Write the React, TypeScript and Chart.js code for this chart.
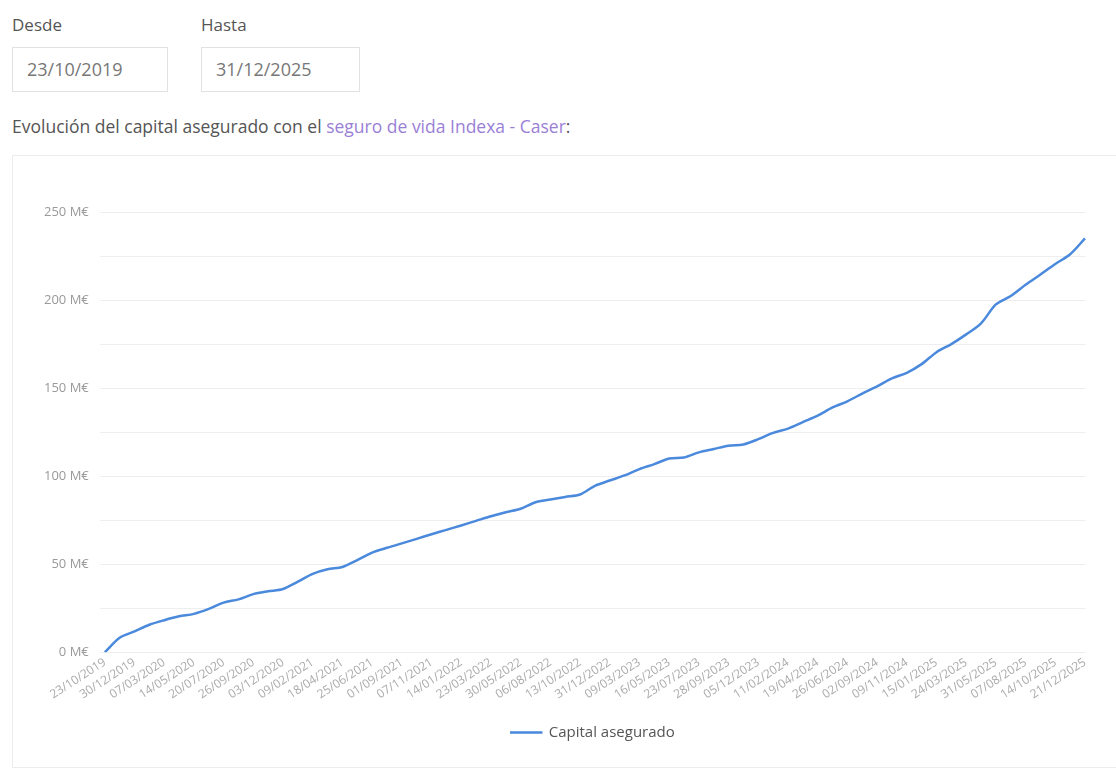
import React, { useEffect, useRef } from "react";
import { Chart, registerables } from "chart.js";

Chart.register(...registerables);

const dates: string[] = [
  "23/10/2019","26/11/2019","30/12/2019","02/02/2020","07/03/2020","10/04/2020","14/05/2020","17/06/2020",
  "20/07/2020","23/08/2020","26/09/2020","30/10/2020","03/12/2020","06/01/2021","09/02/2021","15/03/2021",
  "18/04/2021","22/05/2021","25/06/2021","29/07/2021","01/09/2021","05/10/2021","07/11/2021","11/12/2021",
  "14/01/2022","17/02/2022","23/03/2022","26/04/2022","30/05/2022","03/07/2022","06/08/2022","09/09/2022",
  "13/10/2022","22/11/2022","31/12/2022","03/02/2023","09/03/2023","12/04/2023","16/05/2023","19/06/2023",
  "23/07/2023","26/08/2023","28/09/2023","01/11/2023","05/12/2023","08/01/2024","11/02/2024","16/03/2024",
  "19/04/2024","23/05/2024","26/06/2024","30/07/2024","02/09/2024","06/10/2024","09/11/2024","13/12/2024",
  "15/01/2025","18/02/2025","24/03/2025","27/04/2025","31/05/2025","04/07/2025","07/08/2025","10/09/2025",
  "14/10/2025","17/11/2025","21/12/2025",
];

const capitalAsegurado: number[] = [
  0, 8.2, 11.8, 15.6, 18.2, 20.4, 21.8, 24.6, 28.2, 30, 33, 34.6, 35.9, 40.1, 44.5, 47.1,
  48.4, 52.3, 56.6, 59.3, 61.8, 64.4, 67, 69.5, 72, 74.6, 77.2, 79.5, 81.5, 85.2, 86.7, 88.2,
  89.6, 94.5, 97.5, 100.4, 104, 106.8, 110, 110.6, 113.5, 115.4, 117.3, 118, 121, 124.6, 127, 130.7,
  134.3, 139, 142.5, 146.9, 151, 155.5, 158.7, 163.6, 170.4, 175, 180.5, 186.8, 197.5, 202.3, 208.7,
  214.5, 220.5, 226, 235,
];

const seriesName = "Capital asegurado";
const fromDate = "23/10/2019";
const toDate = "31/12/2025";

const FONT = "'Open Sans', 'DejaVu Sans', sans-serif";

export default function App() {
  const canvasRef = useRef<HTMLCanvasElement | null>(null);

  useEffect(() => {
    if (!canvasRef.current) return;
    const chart = new Chart(canvasRef.current, {
      type: "line",
      data: {
        labels: dates,
        datasets: [
          {
            label: seriesName,
            data: capitalAsegurado,
            borderColor: "#4a89dc",
            backgroundColor: "#4a89dc",
            borderWidth: 2.5,
            pointRadius: 0,
            pointHoverRadius: 0,
            tension: 0.3,
            fill: false,
          },
        ],
      },
      options: {
        responsive: false,
        animation: false,
        maintainAspectRatio: false,
        layout: { padding: { left: 13, right: 0, top: 47, bottom: 15 } },
        plugins: {
          tooltip: { enabled: false },
          legend: {
            position: "bottom",
            labels: {
              boxWidth: 30,
              boxHeight: 0.1,
              color: "#555",
              font: { family: FONT, size: 15 },
              padding: 20,
            },
          },
        },
        scales: {
          x: {
            grid: { display: false, drawTicks: false },
            border: { display: false },
            ticks: {
              autoSkip: false,
              minRotation: 33,
              maxRotation: 33,
              color: "#aaa",
              font: { family: FONT, size: 12 },
              padding: 3,
              callback: (_v: any, i: number) => (i % 2 === 0 ? dates[i] : ""),
            },
          },
          y: {
            min: 0,
            max: 250,
            border: { display: false },
            grid: { color: "#eeeeee", tickLength: 5, lineWidth: 1 },
            ticks: {
              stepSize: 25,
              autoSkip: false,
              color: "#999",
              padding: 11,
              font: { family: FONT, size: 13 },
              callback: (v: any) => (Number(v) % 50 === 0 ? `${v} M€` : ""),
            },
          },
          yRightSpace: {
            position: "right",
            display: true,
            grid: { display: false, drawTicks: false },
            border: { display: false },
            ticks: { display: false },
            afterFit: (s: any) => {
              s.width = 68;
            },
          },
        },
      },
    });
    return () => chart.destroy();
  }, []);

  const labelStyle: React.CSSProperties = {
    position: "absolute",
    fontFamily: FONT,
    fontSize: 17,
    color: "#555",
    lineHeight: "20px",
    margin: 0,
    whiteSpace: "nowrap",
  };
  const inputStyle: React.CSSProperties = {
    position: "absolute",
    top: 47,
    height: 45,
    boxSizing: "border-box",
    border: "1px solid #e2e2e2",
    fontFamily: FONT,
    fontSize: 18,
    color: "#777",
    lineHeight: "43px",
    paddingLeft: 14,
  };

  return (
    <div
      style={{
        position: "absolute",
        left: 0,
        top: 0,
        width: 1116,
        height: 771,
        overflow: "hidden",
        background: "#fff",
      }}
    >
      <div style={{ ...labelStyle, left: 12, top: 15 }}>Desde</div>
      <div style={{ ...labelStyle, left: 201, top: 15 }}>Hasta</div>
      <div style={{ ...inputStyle, left: 12, width: 156 }}>{fromDate}</div>
      <div style={{ ...inputStyle, left: 201, width: 159 }}>{toDate}</div>
      <div style={{ ...labelStyle, left: 12, top: 116, fontSize: 17.5 }}>
        Evolución del capital asegurado con el{" "}
        <span style={{ color: "#9a7fd6" }}>seguro de vida Indexa - Caser</span>:
      </div>
      <div
        style={{
          position: "absolute",
          left: 12,
          top: 155,
          width: 1200,
          height: 613,
          boxSizing: "border-box",
          border: "1px solid #ececec",
        }}
      />
      <canvas
        ref={canvasRef}
        width={1133}
        height={600}
        style={{ position: "absolute", left: 20, top: 165, width: 1133, height: 600 }}
      />
    </div>
  );
}
